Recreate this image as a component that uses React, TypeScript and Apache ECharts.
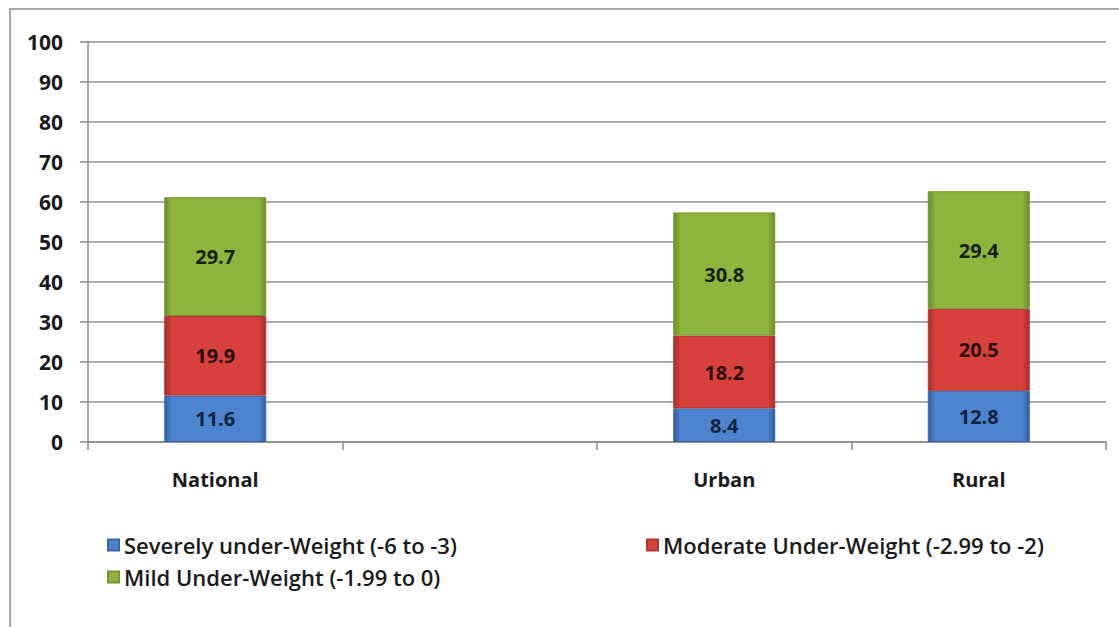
import React, { useEffect, useRef } from "react";
import * as echarts from "echarts";

const categories = ["National", "", "Urban", "Rural"];
const severe = [11.6, null, 8.4, 12.8];
const moderate = [19.9, null, 18.2, 20.5];
const mild = [29.7, null, 30.8, 29.4];
const seriesNames = [
  "Severely under-Weight (-6 to -3)",
  "Moderate Under-Weight (-2.99 to -2)",
  "Mild Under-Weight (-1.99 to 0)",
];
const FONT = "Open Sans";

function grad(top: string, mid: string, dark: string) {
  return new echarts.graphic.LinearGradient(0, 0, 1, 0, [
    { offset: 0, color: dark },
    { offset: 0.07, color: mid },
    { offset: 0.93, color: mid },
    { offset: 1, color: dark },
  ]);
}

export default function App() {
  const ref = useRef<HTMLDivElement>(null);
  useEffect(() => {
    document.body.style.margin = "0";
    const chart = echarts.init(ref.current!, null, { renderer: "svg" });
    const label = {
      show: true,
      position: "inside",
      fontFamily: FONT,
      fontWeight: "bold",
      fontSize: 20,
      color: "#1c1c1c",
      formatter: (p: any) => (p.value == null ? "" : Number(p.value).toFixed(1)),
    };
    const mk = (name: string, data: any[], fill: any, border: string, lblColor: string) => ({
      name,
      type: "bar",
      stack: "total",
      barWidth: 102,
      data,
      itemStyle: { color: fill, borderColor: border, borderWidth: 1 },
      label: { ...label, color: lblColor },
    });
    const legendCommon = {
      itemWidth: 11,
      itemHeight: 11,
      icon: "rect",
      textStyle: { fontFamily: FONT, fontSize: 22, fontWeight: 600, color: "#1a1a1a", padding: [0, 0, 0, 0] },
      padding: 0,
    };
    chart.setOption({
      animation: false,
      backgroundColor: "#ffffff",
      grid: { left: 88, right: 13, top: 42, bottom: 185, containLabel: false },
      xAxis: {
        type: "category",
        data: categories,
        boundaryGap: true,
        axisLine: { lineStyle: { color: "#8a8a8a", width: 1.5 } },
        axisTick: { show: true, length: 8, lineStyle: { color: "#8a8a8a", width: 1.5 } },
        axisLabel: { fontFamily: FONT, fontWeight: "bold", fontSize: 20, color: "#1a1a1a", margin: 27 },
      },
      yAxis: {
        type: "value",
        min: 0,
        max: 100,
        interval: 10,
        axisLine: { show: true, lineStyle: { color: "#8a8a8a", width: 1.5 } },
        axisTick: { show: true, length: 8, lineStyle: { color: "#8a8a8a", width: 1.5 } },
        axisLabel: { fontFamily: FONT, fontWeight: "bold", fontSize: 21, color: "#1a1a1a", margin: 25 },
        splitLine: { lineStyle: { color: "#8f8f8f", width: 1.5 } },
      },
      legend: [
        { ...legendCommon, data: [seriesNames[0]], left: 107, top: 534 },
        { ...legendCommon, data: [seriesNames[1]], left: 646, top: 534 },
        { ...legendCommon, data: [seriesNames[2]], left: 107, top: 566 },
      ],
      graphic: [
        {
          type: "rect",
          shape: { x: 10, y: 9, width: 1130, height: 640 },
          style: { fill: "none", stroke: "#8c8c8c", lineWidth: 1.5 },
          silent: true,
        },
      ],
      series: [
        mk(seriesNames[0], severe, grad("#7fb0ee", "#4d84d0", "#2f5f9e"), "#3a66a8", "#14233d"),
        mk(seriesNames[1], moderate, grad("#f07070", "#d8403c", "#a82e2b"), "#b13532", "#2a0e0e"),
        mk(seriesNames[2], mild, grad("#b6d86a", "#8db43c", "#6c8c2c"), "#74952f", "#16210a"),
      ],
    });
    return () => chart.dispose();
  }, []);
  return <div ref={ref} style={{ width: 1119, height: 627 }} />;
}
